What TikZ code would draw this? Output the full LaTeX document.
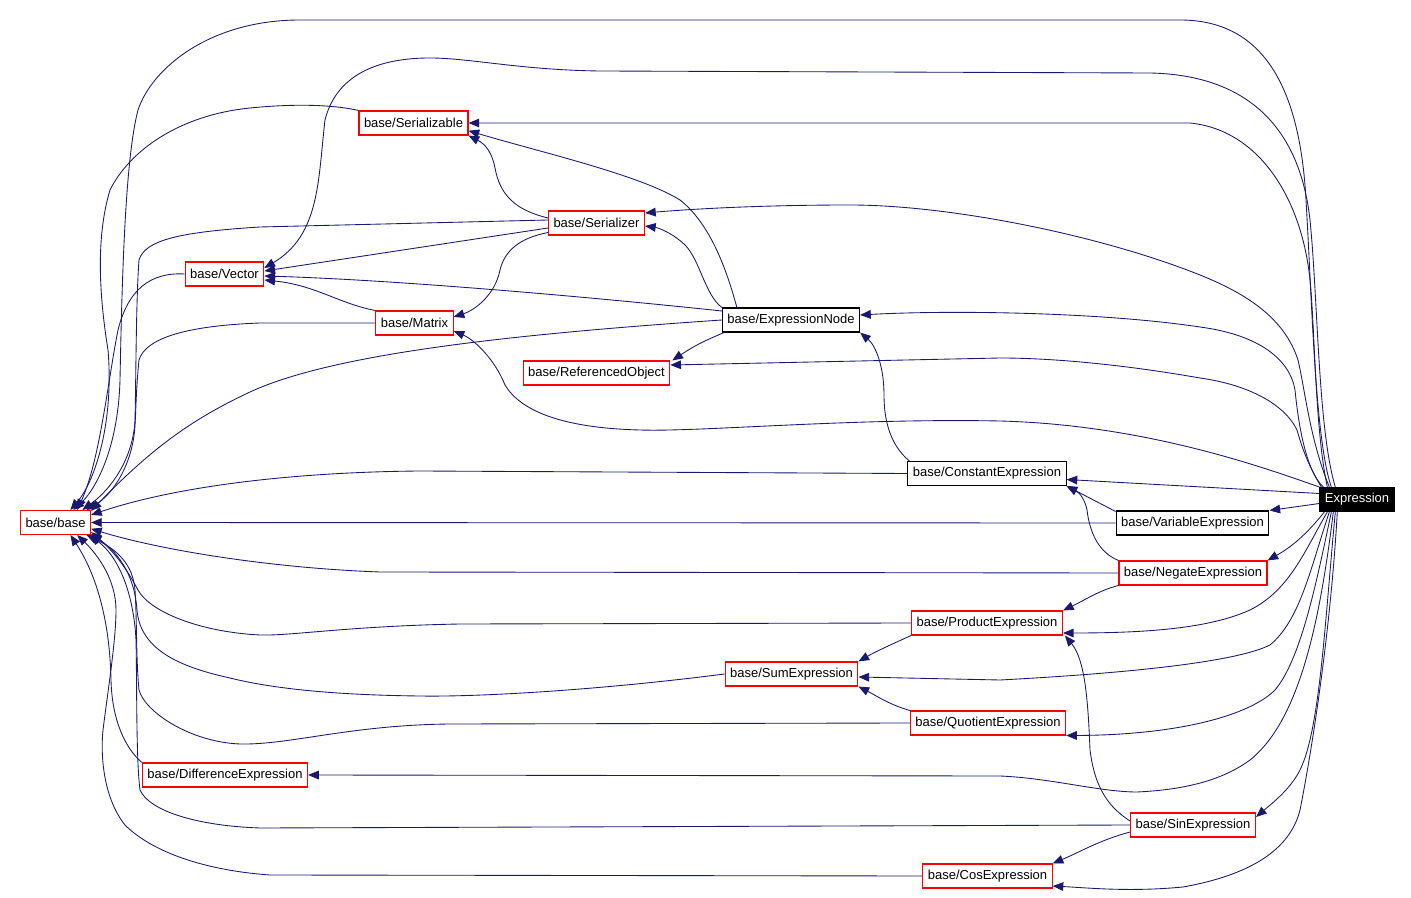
\documentclass[tikz,border=0pt]{standalone}
\usepackage{fontspec}
\setmainfont{Liberation Sans}
\usetikzlibrary{arrows.meta,calc}
\definecolor{edgeblue}{RGB}{25,25,112}

\begin{document}
\begin{tikzpicture}[
  x=0.75pt,y=-0.75pt,
  redbox/.style={draw=red,fill=white,font=\fontsize{9.75}{11}\selectfont,
                 minimum height=18pt,inner xsep=3.75pt,inner ysep=0pt,line width=0.8pt},
  blackbox/.style={redbox,draw=black},
  rootbox/.style={redbox,draw=black,fill=black,text=white},
  dep/.style={draw=edgeblue,line width=0.65pt,-{Triangle[length=8pt,width=6.5pt]}}
]
\useasboundingbox (0,0) rectangle (1411,898);

% files
\node[rootbox]  (expr)    at (1357,499.5) {Expression};
\node[redbox]   (serable) at (413.5,123)  {base/Serializable};
\node[redbox]   (serizer) at (596.5,223)  {base/Serializer};
\node[redbox]   (vector)  at (224.5,274)  {base/Vector};
\node[redbox]   (matrix)  at (414.5,323)  {base/Matrix};
\node[blackbox] (exnode)  at (791,320)    {base/ExpressionNode};
\node[redbox]   (refobj)  at (596.5,373)  {base/ReferencedObject};
\node[blackbox] (constx)  at (987,473.5)  {base/ConstantExpression};
\node[blackbox] (varx)    at (1192.5,523) {base/VariableExpression};
\node[redbox]   (negx)    at (1193,573)   {base/NegateExpression};
\node[redbox]   (prodx)   at (987,623)    {base/ProductExpression};
\node[redbox]   (sumx)    at (791.5,674)  {base/SumExpression};
\node[redbox]   (quotx)   at (988,723)    {base/QuotientExpression};
\node[redbox]   (diffx)   at (225,775)    {base/DifferenceExpression};
\node[redbox]   (sinx)    at (1193,825)   {base/SinExpression};
\node[redbox]   (cosx)    at (987.5,876)  {base/CosExpression};
\node[redbox]   (base)    at (55.5,522.5) {base/base};

% into base/base
\draw[dep] ($(expr.north west)+(12,0)$) .. controls (1315,440) and (1312,300) .. (1306,200)
  .. controls (1300,90) and (1265,20) .. (1180,20) -- (300,20)
  .. controls (210,20) and (152,68) .. (138,110) .. controls (125,160) and (122,280) .. (120,380)
  .. controls (118,450) and (95,490) .. (base.35);
\draw[dep] (serable.north west) .. controls (330,104) and (290,104) .. (250,108)
  .. controls (180,115) and (130,150) .. (110,190) .. controls (95,240) and (100,300) .. (108,350)
  .. controls (114,420) and (96,480) .. (base.40);
\draw[dep] ($(serizer.west)+(0,-3)$) -- (260,227) .. controls (180,232) and (145,240) .. (139,260)
  .. controls (136,300) and (136,380) .. (135,420) .. controls (133,460) and (110,490) .. (base.25);
\draw[dep] (vector.west) .. controls (150,272) and (128,290) .. (118,330)
  .. controls (108,380) and (100,460) .. (base.30);
\draw[dep] (matrix.west) -- (260,323) .. controls (180,326) and (145,340) .. (139,360)
  .. controls (136,390) and (136,410) .. (135,425) .. controls (133,465) and (112,495) .. (base.22);
\draw[dep] (exnode.west) .. controls (500,335) and (330,355) .. (250,392)
  .. controls (190,420) and (150,450) .. (base.18);
\draw[dep] (constx.west) -- (420,471) .. controls (300,472) and (180,485) .. (base.12);
\draw[dep] (varx.west) -- (base.east);
\draw[dep] (negx.west) -- (380,572) .. controls (270,568) and (160,550) .. (base.-10);
\draw[dep] (prodx.west) -- (460,624) .. controls (350,626) and (290,636) .. (260,635)
  .. controls (200,632) and (150,612) .. (138,590) .. controls (130,575) and (118,555) .. (base.-15);
\draw[dep] (sumx.west) .. controls (600,690) and (480,697) .. (420,696)
  .. controls (330,695) and (270,688) .. (230,678) .. controls (170,665) and (140,645) .. (137,610)
  .. controls (135,580) and (122,555) .. (base.-18);
\draw[dep] (quotx.west) -- (450,724) .. controls (350,725) and (290,745) .. (240,744)
  .. controls (190,742) and (145,712) .. (139,690) .. controls (136,660) and (137,620) .. (135,590)
  .. controls (133,565) and (118,550) .. (base.-22);
\draw[dep] (diffx.north west) .. controls (125,748) and (112,720) .. (111,680)
  .. controls (110,630) and (100,580) .. (base.-40);
\draw[dep] (sinx.west) -- (260,828) .. controls (200,826) and (150,812) .. (140,790)
  .. controls (136,760) and (137,680) .. (136,640) .. controls (134,600) and (122,560) .. (base.-20);
\draw[dep] (cosx.west) -- (270,875) .. controls (200,870) and (150,850) .. (125,825)
  .. controls (105,800) and (100,760) .. (103,730) .. controls (108,690) and (116,640) .. (116,610)
  .. controls (116,580) and (98,555) .. (base.-30);

% upper files
\draw[dep] ($(expr.north west)+(16,0)$) .. controls (1318,430) and (1318,300) .. (1310,220)
  .. controls (1300,130) and (1250,75) .. (1150,73) -- (600,71)
  .. controls (520,70) and (470,58) .. (430,58) .. controls (370,58) and (335,80) .. (325,120)
  .. controls (318,180) and (320,235) .. ($(vector.east)+(0,-6)$);
\draw[dep] ($(serizer.west)+(0,5)$) -- ($(vector.east)+(0,-3)$);
\draw[dep] ($(exnode.west)+(0,-9)$) .. controls (600,298) and (400,280) .. ($(vector.east)+(0,2)$);
\draw[dep] (matrix.north west) .. controls (340,304) and (315,285) .. ($(vector.east)+(0,6)$);
\draw[dep] ($(serizer.west)+(0,-5)$) .. controls (515,210) and (500,195) .. (495,168)
  .. controls (492,152) and (485,144) .. (serable.south east);
\draw[dep] ($(exnode.north west)+(15,0)$) .. controls (728,275) and (712,225) .. (680,200)
  .. controls (640,175) and (540,152) .. (serable.-8);
\draw[dep] ($(expr.north west)+(8,0)$) .. controls (1315,430) and (1315,330) .. (1310,280)
  .. controls (1302,200) and (1260,130) .. (1190,123) -- (serable.east);
\draw[dep] ($(expr.north west)+(10,0)$) .. controls (1310,440) and (1305,390) .. (1298,360)
  .. controls (1285,320) and (1250,295) .. (1200,275) .. controls (1100,235) and (950,205) .. (850,205)
  .. controls (750,205) and (680,210) .. ($(serizer.east)+(0,-10)$);
\draw[dep] (exnode.north west) .. controls (705,295) and (700,260) .. (685,245)
  .. controls (675,235) and (660,228) .. ($(serizer.east)+(0,3)$);
\draw[dep] ($(serizer.south west)+(0,-3)$) .. controls (520,238) and (505,250) .. (500,270)
  .. controls (495,295) and (475,310) .. ($(matrix.east)+(0,-6)$);
\draw[dep] (expr.north west) .. controls (1270,470) and (1150,425) .. (1000,421)
  .. controls (850,418) and (700,432) .. (640,430) .. controls (560,428) and (520,410) .. (505,385)
  .. controls (495,360) and (475,340) .. ($(matrix.east)+(0,8)$);
\draw[dep] ($(expr.north west)+(4,0)$) .. controls (1305,470) and (1298,420) .. (1295,390)
  .. controls (1290,360) and (1260,335) .. (1200,327) .. controls (1100,312) and (950,310) .. ($(exnode.east)+(0,-5)$);
\draw[dep] ($(expr.north west)+(2,0)$) .. controls (1305,460) and (1300,440) .. (1297,430)
  .. controls (1285,405) and (1250,385) .. (1200,378) .. controls (1120,364) and (1050,358) .. (1000,358)
  -- ($(refobj.east)+(0,-8)$);
\draw[dep] ($(exnode.south west)+(2,0)$) .. controls (712,338) and (700,342) .. ($(refobj.north east)+(2,0)$);
\draw[dep] ($(constx.north west)+(2,0)$) .. controls (890,445) and (884,420) .. (884,395)
  .. controls (884,365) and (875,345) .. (exnode.south east);

% expressions
\draw[dep] ($(expr.west)+(0,-6)$) -- ($(constx.east)+(0,6)$);
\draw[dep] ($(varx.north west)+(0,1)$) -- (constx.south east);
\draw[dep] (negx.north west) .. controls (1100,553) and (1090,535) .. (1087,510)
  .. controls (1085,500) and (1080,493) .. (constx.south east);
\draw[dep] ($(expr.west)+(0,4)$) -- (varx.north east);
\draw[dep] ($(expr.south west)+(5,0)$) .. controls (1310,530) and (1295,545) .. (negx.north east);
\draw[dep] (negx.south west) .. controls (1100,590) and (1085,600) .. (prodx.north east);
\draw[dep] ($(expr.south west)+(8,0)$) .. controls (1305,550) and (1290,590) .. (1250,610)
  .. controls (1210,628) and (1150,633) .. ($(prodx.east)+(0,10)$);
\draw[dep] ($(sinx.west)+(0,-4)$) .. controls (1110,808) and (1095,790) .. (1090,750)
  .. controls (1088,700) and (1085,660) .. ($(prodx.south east)+(2,0)$);
\draw[dep] (prodx.south west) .. controls (890,645) and (875,652) .. (sumx.north east);
\draw[dep] ($(expr.south west)+(10,0)$) .. controls (1310,570) and (1300,620) .. (1270,645)
  .. controls (1240,660) and (1150,672) .. (1000,680) -- ($(sumx.east)+(0,3)$);
\draw[dep] (quotx.north west) .. controls (890,705) and (875,695) .. (sumx.south east);
\draw[dep] ($(expr.south west)+(12,0)$) .. controls (1315,590) and (1300,660) .. (1275,690)
  .. controls (1250,715) and (1180,735) .. (quotx.south east);
\draw[dep] ($(expr.south west)+(14,0)$) .. controls (1320,620) and (1300,720) .. (1250,760)
  .. controls (1220,782) and (1180,790) .. (1137,792) .. controls (1100,792) and (1050,778) .. (1000,776)
  -- (diffx.east);
\draw[dep] ($(expr.south west)+(16,0)$) .. controls (1325,620) and (1320,730) .. (1300,770)
  .. controls (1290,790) and (1270,805) .. ($(sinx.east)+(0,-8)$);
\draw[dep] ($(sinx.west)+(0,7)$) .. controls (1100,840) and (1080,852) .. (cosx.north east);
\draw[dep] ($(expr.south west)+(18,0)$) .. controls (1330,640) and (1310,760) .. (1300,810)
  .. controls (1290,850) and (1250,875) .. (1183,887) .. controls (1130,892) and (1090,888) .. ($(cosx.east)+(0,10)$);
\end{tikzpicture}
\end{document}
